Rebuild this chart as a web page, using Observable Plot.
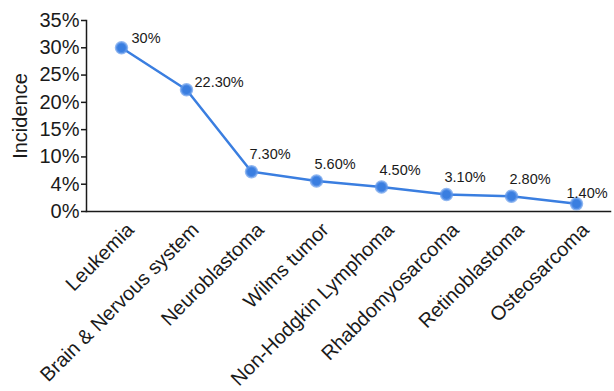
<!DOCTYPE html>
<html>
<head>
<meta charset="utf-8">
<script src="https://cdn.jsdelivr.net/npm/d3@7"></script>
<script src="https://cdn.jsdelivr.net/npm/@observablehq/plot@0.6"></script>
<style>
  html, body { margin: 0; padding: 0; background: #fff; }
  #chart svg { display: block; }
</style>
</head>
<body>
<div id="chart"></div>
<script>
// Childhood cancer types and their share of incidence (%)
const cancerTypes = [
  "Leukemia",
  "Brain & Nervous system",
  "Neuroblastoma",
  "Wilms tumor",
  "Non-Hodgkin Lymphoma",
  "Rhabdomyosarcoma",
  "Retinoblastoma",
  "Osteosarcoma"
];
const incidence = [30, 22.3, 7.3, 5.6, 4.5, 3.1, 2.8, 1.4];
const valueLabels = ["30%", "22.30%", "7.30%", "5.60%", "4.50%", "3.10%", "2.80%", "1.40%"];

// y-axis tick values and the labels printed beside them
const yTicks = [0, 5, 10, 15, 20, 25, 30, 35];
const yTickLabels = ["0%", "4%", "10%", "15%", "20%", "25%", "30%", "35%"];

const rows = cancerTypes.map((type, i) => ({type, value: incidence[i], label: valueLabels[i]}));

const blue = "#3a7ee0";
const ink = "#1a1a1a";
const font = "'Liberation Sans', Arial, Helvetica, sans-serif";

const chart = Plot.plot({
  width: 614,
  height: 391,
  marginLeft: 86,
  marginRight: 4,
  marginTop: 20,
  marginBottom: 180,
  style: {fontFamily: font, color: ink, background: "#fff", overflow: "visible"},
  x: {type: "point", domain: cancerTypes, padding: 0.5},
  y: {domain: [0, 35]},
  marks: [
    Plot.frame({anchor: "left", stroke: ink, strokeWidth: 1.5}),
    Plot.frame({anchor: "bottom", stroke: ink, strokeWidth: 1.5}),
    Plot.axisY({
      ticks: yTicks,
      tickFormat: (d) => yTickLabels[yTicks.indexOf(d)],
      tickSize: 5,
      tickPadding: 2,
      fontSize: 20,
      stroke: ink,
      strokeWidth: 1.5,
      label: "Incidence",
      labelAnchor: "center",
      labelArrow: "none",
      labelOffset: 74
    }),
    Plot.axisX({
      tickSize: 0,
      tickRotate: -45,
      tickPadding: 0,
      fontSize: 20,
      dx: 9,
      dy: 15,
      label: null
    }),
    Plot.line(rows, {x: "type", y: "value", stroke: blue, strokeWidth: 2.5}),
    Plot.dot(rows, {
      x: "type", y: "value", r: 5.5, fill: blue,
      stroke: "#5f97ea", strokeWidth: 2.5, strokeOpacity: 0.7
    }),
    // value labels: the first two sit to the right of their points
    Plot.text(rows, {
      filter: (d, i) => i === 0,
      x: "type", y: "value", text: "label",
      textAnchor: "start", dx: 10, dy: -9, fontSize: 14.5, fill: ink
    }),
    Plot.text(rows, {
      filter: (d, i) => i === 1,
      x: "type", y: "value", text: "label",
      textAnchor: "start", dx: 8, dy: -7, fontSize: 14.5, fill: ink
    }),
    Plot.text(rows, {
      filter: (d, i) => i >= 2 && i < rows.length - 1,
      x: "type", y: "value", text: "label",
      textAnchor: "start", dx: -2, dy: -17, fontSize: 14.5, fill: ink
    }),
    Plot.text(rows, {
      filter: (d, i) => i === rows.length - 1,
      x: "type", y: "value", text: "label",
      textAnchor: "start", dx: -10, dy: -11, fontSize: 14.5, fill: ink
    })
  ]
});

document.getElementById("chart").appendChild(chart);
</script>
</body>
</html>
